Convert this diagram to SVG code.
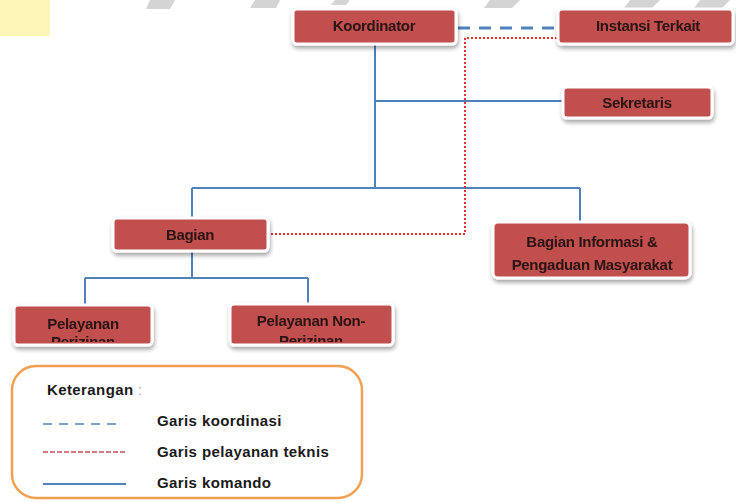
<svg xmlns="http://www.w3.org/2000/svg" width="736" height="502" viewBox="0 0 736 502">
<defs>
<style>
.box{fill:#c0504d;stroke:#ffffff;stroke-width:3}
.lbl{font-family:"Liberation Sans",Arial,sans-serif;font-weight:bold;font-size:15px;letter-spacing:-0.3px;fill:#2a1212;text-anchor:middle}
.leg{font-family:"Liberation Sans",Arial,sans-serif;font-weight:bold;font-size:15px;letter-spacing:0.4px;fill:#1a1a1a}
.cmd{stroke:#4f81bd;stroke-width:2;fill:none}
.coord{stroke:#4f81bd;stroke-width:3;stroke-dasharray:12 9;fill:none}
.tech{stroke:#e03030;stroke-width:2;stroke-dasharray:2 2;fill:none}
.wm{fill:#d4d4d4}
</style>
<filter id="sh" x="-10%" y="-20%" width="120%" height="150%">
<feDropShadow dx="1" dy="3" stdDeviation="2" flood-color="#000" flood-opacity="0.35"/>
</filter>
<clipPath id="c1"><rect x="14" y="305" width="138" height="37"/></clipPath>
<clipPath id="c2"><rect x="230" y="304" width="163" height="38"/></clipPath>
</defs>
<rect width="736" height="502" fill="#ffffff"/>
<g id="watermark">
<path d="M0 0H50V36H0Z" fill="#fdf6b8"/>
<path d="M150 0H175L170 9H146Z" class="wm"/>
<path d="M255 0H280L276 8H250Z" class="wm"/>
<path d="M335 0H350L346 5H331Z" class="wm"/>
<path d="M490 0H520L512 8H484Z" class="wm"/>
<path d="M630 0H660L652 8H624Z" class="wm"/>
<path d="M700 0H730L722 8H694Z" class="wm"/>
</g>
<g id="connectors">
<path class="cmd" d="M375 44V188M375 101H563M192 188H580M192 188V218M580 188V222M192 251V278M85 278H308M85 278V305M308 278V304"/>
<path class="coord" d="M458 28H557"/>
<path class="tech" d="M557 38H465V234H268"/>
</g>
<g id="koordinator" filter="url(#sh)">
<rect class="box" x="293" y="9" width="163" height="35" rx="4"/>
<text class="lbl" x="374" y="31">Koordinator</text>
</g>
<g id="instansi" filter="url(#sh)">
<rect class="box" x="558" y="9" width="175" height="35" rx="4"/>
<text class="lbl" x="648" y="31">Instansi Terkait</text>
</g>
<g id="sekretaris" filter="url(#sh)">
<rect class="box" x="563" y="87" width="149" height="31" rx="4"/>
<text class="lbl" x="637" y="108">Sekretaris</text>
</g>
<g id="bagian" filter="url(#sh)">
<rect class="box" x="113" y="218" width="155" height="33" rx="4"/>
<text class="lbl" x="190" y="240">Bagian</text>
</g>
<g id="bagian-informasi" filter="url(#sh)">
<rect class="box" x="493" y="222" width="197" height="56" rx="5"/>
<text class="lbl" x="592" y="247">Bagian Informasi &amp;</text>
<text class="lbl" x="592" y="270">Pengaduan Masyarakat</text>
</g>
<g id="pelayanan-perizinan" filter="url(#sh)">
<rect class="box" x="14" y="305" width="138" height="40" rx="4"/>
<g clip-path="url(#c1)">
<text class="lbl" x="83" y="329">Pelayanan</text>
<text class="lbl" x="83" y="347">Perizinan</text>
</g>
</g>
<g id="pelayanan-non-perizinan" filter="url(#sh)">
<rect class="box" x="230" y="304" width="163" height="41" rx="4"/>
<g clip-path="url(#c2)">
<text class="lbl" x="311" y="326">Pelayanan Non-</text>
<text class="lbl" x="311" y="346">Perizinan</text>
</g>
</g>
<g id="legend">
<rect x="12" y="366" width="350" height="132" rx="24" fill="#ffffff" stroke="#f0a050" stroke-width="2.5"/>
<text class="leg" x="47" y="395">Keterangan <tspan fill="#aaaaaa" font-weight="normal">:</tspan></text>
<path d="M43 424H123" stroke="#7aa3d4" stroke-width="2" stroke-dasharray="9 7"/>
<text class="leg" x="157" y="426">Garis koordinasi</text>
<path d="M43 452H126" stroke="#d27a80" stroke-width="2" stroke-dasharray="5 2"/>
<text class="leg" x="157" y="457">Garis pelayanan teknis</text>
<path d="M43 484H126" stroke="#4f81bd" stroke-width="2"/>
<text class="leg" x="157" y="488">Garis komando</text>
</g>
</svg>
